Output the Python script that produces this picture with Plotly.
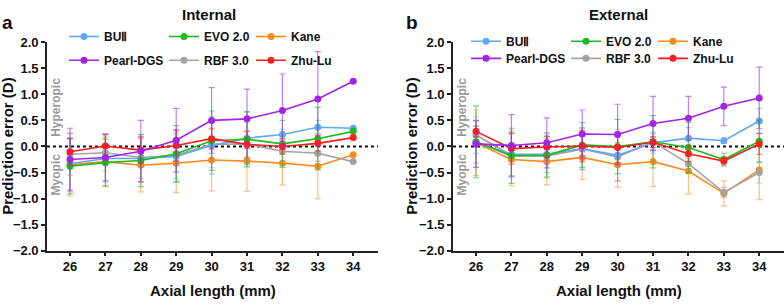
import plotly.graph_objects as go

axial = [26, 27, 28, 29, 30, 31, 32, 33, 34]
tick_vals = [-2.0, -1.5, -1.0, -0.5, 0.0, 0.5, 1.0, 1.5, 2.0]

series_names = ["BUⅡ", "EVO 2.0", "Kane", "Pearl-DGS", "RBF 3.0", "Zhu-Lu"]

# Panel a: Internal (mean, SD)
int_bu = [-0.33, -0.23, -0.23, -0.19, 0.02, 0.16, 0.23, 0.37, 0.35]
int_bu_sd = [0.5, 0.45, 0.45, 0.5, 0.55, 0.5, 0.1, 0.13, 0]
int_evo = [-0.38, -0.31, -0.27, -0.14, 0.11, 0.14, 0.05, 0.15, 0.29]
int_evo_sd = [0.53, 0.45, 0.5, 0.54, 0.57, 0.53, 0.45, 0.6, 0]
int_kane = [-0.35, -0.29, -0.36, -0.32, -0.26, -0.28, -0.32, -0.38, -0.16]
int_kane_sd = [0.6, 0.47, 0.51, 0.56, 0.59, 0.58, 0.42, 0.62, 0]
int_pearl = [-0.25, -0.21, -0.09, 0.12, 0.5, 0.53, 0.69, 0.91, 1.25]
int_pearl_sd = [0.6, 0.45, 0.59, 0.61, 0.63, 0.57, 0.7, 0.91, 0]
int_rbf = [-0.15, -0.12, -0.21, -0.17, 0.04, 0.05, -0.09, -0.13, -0.29]
int_rbf_sd = [0.4, 0.35, 0.4, 0.45, 0.45, 0.4, 0.2, 0.15, 0]
int_zhu = [-0.1, 0.01, -0.07, 0.02, 0.15, 0.04, 0.0, 0.06, 0.17]
int_zhu_sd = [0.25, 0.22, 0.25, 0.3, 0.2, 0.25, 0.15, 0.15, 0]

# Panel b: External (mean, SD)
ext_bu = [0.08, -0.15, -0.15, -0.04, -0.17, 0.07, 0.16, 0.11, 0.49]
ext_bu_sd = [0.4, 0.45, 0.35, 0.4, 0.5, 0.2, 0.2, 0.05, 0.24]
ext_evo = [0.09, -0.18, -0.17, 0.03, 0.0, 0.09, -0.02, -0.25, 0.1]
ext_evo_sd = [0.69, 0.53, 0.43, 0.43, 0.52, 0.5, 0.48, 0.12, 0.4]
ext_kane = [0.07, -0.25, -0.29, -0.21, -0.35, -0.29, -0.47, -0.9, -0.45]
ext_kane_sd = [0.63, 0.5, 0.44, 0.42, 0.43, 0.48, 0.44, 0.24, 0.57]
ext_pearl = [0.05, 0.02, 0.07, 0.24, 0.23, 0.44, 0.54, 0.77, 0.93]
ext_pearl_sd = [0.45, 0.59, 0.48, 0.46, 0.58, 0.52, 0.42, 0.37, 0.59]
ext_rbf = [0.22, -0.17, -0.18, -0.05, -0.2, 0.09, -0.33, -0.88, -0.5]
ext_rbf_sd = [0.35, 0.4, 0.4, 0.4, 0.45, 0.15, 0.1, 0.1, 0.2]
ext_zhu = [0.29, -0.04, -0.01, 0.01, -0.02, 0.08, -0.14, -0.28, 0.05]
ext_zhu_sd = [0.1, 0.3, 0.2, 0.3, 0.3, 0.1, 0.15, 0.07, 0.2]

colors = {
    "BUⅡ": ("#62A8F5", "rgba(98,168,245,0.55)"),
    "EVO 2.0": ("#1EBB1E", "rgba(30,187,30,0.6)"),
    "Kane": ("#FF8A1C", "rgba(255,138,28,0.55)"),
    "Pearl-DGS": ("#A324E6", "rgba(163,36,230,0.6)"),
    "RBF 3.0": ("#A3A3A3", "rgba(163,163,163,0.55)"),
    "Zhu-Lu": ("#FF1C1C", "rgba(255,28,28,0.55)"),
}

panel_a = {
    "BUⅡ": (int_bu, int_bu_sd), "EVO 2.0": (int_evo, int_evo_sd),
    "Kane": (int_kane, int_kane_sd), "Pearl-DGS": (int_pearl, int_pearl_sd),
    "RBF 3.0": (int_rbf, int_rbf_sd), "Zhu-Lu": (int_zhu, int_zhu_sd),
}
panel_b = {
    "BUⅡ": (ext_bu, ext_bu_sd), "EVO 2.0": (ext_evo, ext_evo_sd),
    "Kane": (ext_kane, ext_kane_sd), "Pearl-DGS": (ext_pearl, ext_pearl_sd),
    "RBF 3.0": (ext_rbf, ext_rbf_sd), "Zhu-Lu": (ext_zhu, ext_zhu_sd),
}

W, H = 784, 307
FONT = "Liberation Sans, Arial, sans-serif"

def px(x):
    return x / W

def py(y):
    return 1 - y / H

fig = go.Figure()

draw_order = ["Kane", "RBF 3.0", "BUⅡ", "EVO 2.0", "Zhu-Lu", "Pearl-DGS"]
# legend slot positions (text-left x, row centre y) per panel, in pixels
slots_a = {"BUⅡ": (108, 35), "EVO 2.0": (208, 35), "Kane": (295, 35),
           "Pearl-DGS": (108, 60), "RBF 3.0": (208, 60), "Zhu-Lu": (295, 60)}
slots_b = {"BUⅡ": (510, 40), "EVO 2.0": (610, 40), "Kane": (697, 40),
           "Pearl-DGS": (510, 58), "RBF 3.0": (610, 58), "Zhu-Lu": (697, 58)}

legend_layouts = {}
legend_idx = 1
for panel, data, slots, xa, ya in [("a", panel_a, slots_a, "x", "y"),
                                   ("b", panel_b, slots_b, "x2", "y2")]:
    for name in draw_order:
        vals, sd = data[name]
        c, ce = colors[name]
        lname = "legend" if legend_idx == 1 else f"legend{legend_idx}"
        fig.add_trace(go.Scatter(
            x=axial, y=vals, name=name, mode="lines+markers",
            line=dict(color=c, width=1.6),
            marker=dict(color=c, size=7, symbol="circle"),
            error_y=dict(type="data", array=sd, visible=True,
                         color=ce, thickness=1.2, width=3),
            xaxis=xa, yaxis=ya, legend=lname, showlegend=True,
        ))
        lx, ly = slots[name]
        legend_layouts[lname] = dict(
            x=px(lx - 44), y=py(ly - 4), xanchor="left", yanchor="middle",
            bgcolor="rgba(0,0,0,0)", borderwidth=0,
            font=dict(family=FONT, size=12, color="#111", weight="bold"),
        )
        legend_idx += 1

axis_common = dict(
    showline=True, linecolor="#222", linewidth=1.6, ticks="outside",
    tickcolor="#222", tickwidth=1.5, showgrid=False, zeroline=False,
    mirror=False,
    tickfont=dict(family=FONT, size=13, color="#111", weight="bold"),
)

ydom = [1 - 256.3 / H, 1 - 37 / H]
xrange = [25.35, 34.7]

fig.update_layout(
    width=W, height=H,
    margin=dict(l=0, r=0, t=0, b=0),
    plot_bgcolor="white", paper_bgcolor="white",
    font=dict(family=FONT, color="#111"),
    xaxis=dict(domain=[px(47), px(378)], range=xrange, tickvals=axial,
               ticklen=3, anchor="y", **axis_common),
    yaxis=dict(domain=ydom, range=[-2, 2], tickvals=tick_vals, tickformat=".1f",
               ticklen=4, anchor="x", **axis_common),
    xaxis2=dict(domain=[px(453), 1.0], range=xrange, tickvals=axial,
                ticklen=3, anchor="y2", **axis_common),
    yaxis2=dict(domain=ydom, range=[-2, 2], tickvals=tick_vals, tickformat=".1f",
                ticklen=4, anchor="x2", **axis_common),
    **legend_layouts,
)

# dotted reference line at zero
for xr, yr in [("x domain", "y"), ("x2 domain", "y2")]:
    fig.add_shape(type="line", xref=xr, yref=yr, x0=0, x1=1, y0=0, y1=0,
                  line=dict(color="#111", width=2, dash="dot"), layer="below")

def ann(text, x, y, size, color="#111", angle=0):
    fig.add_annotation(text=text, x=px(x), y=py(y), xref="paper", yref="paper",
                       showarrow=False, textangle=angle,
                       xanchor="center", yanchor="middle",
                       font=dict(family=FONT, size=size, color=color, weight="bold"))

ann("a", 8, 16, 19)
ann("b", 412, 16, 19)
ann("Internal", 209, 8, 15)
ann("External", 618, 8, 15)
ann("Axial length (mm)", 212.5, 298, 15)
ann("Axial length (mm)", 618.5, 298, 15)
ann("Prediction error (D)", 8, 146, 15, angle=-90)
ann("Prediction error (D)", 412, 146, 15, angle=-90)
for xh in (56, 462):
    ann("Hyperopic", xh, 106, 12, color="#9a9a9a", angle=-90)
    ann("Myopic", xh, 176, 12, color="#9a9a9a", angle=-90)

fig.write_html(
    "out.html",
    config={"displayModeBar": False},
    post_script="document.body.style.margin='0';document.body.style.overflow='hidden';",
)
